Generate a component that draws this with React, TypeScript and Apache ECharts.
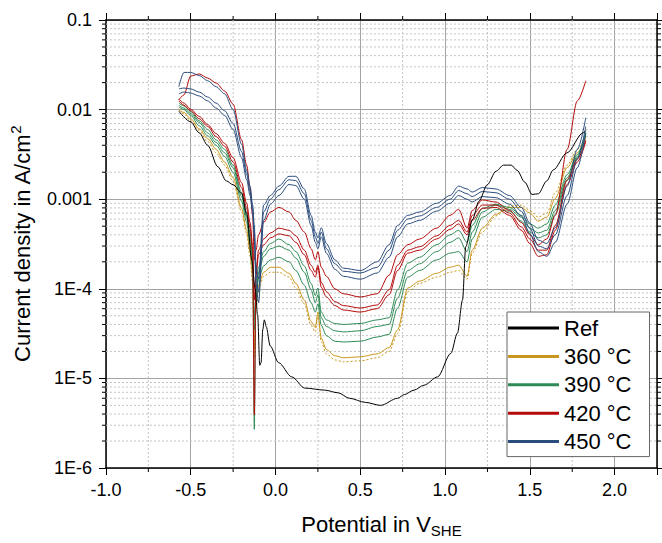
import React, { useEffect, useRef } from "react";
import * as echarts from "echarts";

// Potential (V vs SHE) shared by the temperature curves
const potentials = [-0.57, -0.54, -0.5, -0.45, -0.4, -0.35, -0.3, -0.25, -0.2, -0.17, -0.15, -0.135, -0.125, -0.115, -0.1, -0.07, -0.03, 0.02, 0.08, 0.12, 0.17, 0.21, 0.235, 0.25, 0.27, 0.3, 0.35, 0.4, 0.5, 0.6, 0.67, 0.72, 0.78, 0.85, 0.95, 1.03, 1.08, 1.13, 1.16, 1.22, 1.3, 1.38, 1.45, 1.5, 1.55, 1.6, 1.65, 1.72, 1.78, 1.83];

const refPotentials = [-0.57, -0.5, -0.45, -0.4, -0.34, -0.29, -0.25, -0.2, -0.17, -0.14, -0.12, -0.105, -0.093, -0.085, -0.075, -0.066, -0.055, -0.031, 0.018, 0.096, 0.172, 0.29, 0.37, 0.436, 0.53, 0.62, 0.72, 0.76, 0.817, 0.876, 0.956, 1.034, 1.073, 1.103, 1.122, 1.161, 1.2, 1.249, 1.3, 1.345, 1.39, 1.425, 1.47, 1.513, 1.55, 1.6, 1.638, 1.718, 1.814, 1.83];
const refCurrent = [0.0096, 0.0073, 0.0055, 0.004, 0.0023, 0.0016, 0.00145, 0.00117, 0.00068, 0.00021, 1.0e-4, 5.0e-5, 1.4e-5, 1.5e-5, 3.5e-5, 4.5e-5, 3.8e-5, 2.3e-5, 1.5e-5, 1.04e-5, 7.8e-6, 7.4e-6, 6.9e-6, 6.0e-6, 5.4e-6, 5.0e-6, 6.0e-6, 6.6e-6, 7.4e-6, 8.4e-6, 1.04e-5, 1.9e-5, 3.2e-5, 7.5e-5, 2.95e-4, 5.9e-4, 9.5e-4, 1.45e-3, 2.05e-3, 2.4e-3, 2.4e-3, 2.1e-3, 1.55e-3, 1.13e-3, 1.15e-3, 1.6e-3, 2.12e-3, 3.28e-3, 5.5e-3, 5.8e-3];

const t360a = [0.01, 0.0093, 0.0079, 0.0061, 0.00475, 0.0036, 0.0026, 0.00174, 7.9e-4, 4.5e-4, 2.6e-4, 1.35e-4, 2.1e-5, 6.6e-5, 1.1e-4, 1.53e-4, 1.74e-4, 1.74e-4, 1.49e-4, 1.15e-4, 7.5e-5, 4.3e-5, 3.7e-5, 5.5e-5, 2.8e-5, 2.1e-5, 1.79e-5, 1.7e-5, 1.74e-5, 1.88e-5, 2.2e-5, 3.5e-5, 1.02e-4, 1.22e-4, 1.49e-4, 1.74e-4, 1.83e-4, 1.38e-4, 2.7e-4, 4.75e-4, 6.8e-4, 8.1e-4, 8.1e-4, 7.0e-4, 5.7e-4, 6.3e-4, 1.02e-3, 2.25e-3, 3.3e-3, 4.9e-3];
const t360b = [0.0099, 0.009, 0.0075, 0.0058, 0.0044, 0.0033, 0.0024, 0.00157, 7.2e-4, 4.1e-4, 2.3e-4, 1.15e-4, 1.7e-5, 5.8e-5, 9.75e-5, 1.38e-4, 1.53e-4, 1.53e-4, 1.35e-4, 1.02e-4, 6.8e-5, 3.9e-5, 3.3e-5, 5.1e-5, 2.55e-5, 1.88e-5, 1.61e-5, 1.53e-5, 1.57e-5, 1.7e-5, 2.0e-5, 3.15e-5, 9.3e-5, 1.15e-4, 1.35e-4, 1.53e-4, 1.6e-4, 1.28e-4, 2.5e-4, 4.3e-4, 6.5e-4, 8.4e-4, 8.6e-4, 7.5e-4, 6.3e-4, 7.0e-4, 1.18e-3, 2.4e-3, 3.6e-3, 5.1e-3];

const t390a = [0.0118, 0.011, 0.0095, 0.0075, 0.006, 0.0046, 0.0036, 0.0024, 0.00118, 7.0e-4, 4.2e-4, 2.4e-4, 2.7e-6, 9.75e-5, 1.74e-4, 2.6e-4, 3.2e-4, 3.6e-4, 3.1e-4, 2.6e-4, 1.8e-4, 1.15e-4, 8.4e-5, 1.02e-4, 5.5e-5, 4.5e-5, 4.1e-5, 4.0e-5, 4.1e-5, 4.5e-5, 4.75e-5, 9.75e-5, 1.93e-4, 2.25e-4, 3.1e-4, 4.0e-4, 4.5e-4, 3.3e-4, 5.1e-4, 7.9e-4, 8.8e-4, 8.1e-4, 6.6e-4, 5.3e-4, 4.75e-4, 5.3e-4, 8.6e-4, 1.88e-3, 3.15e-3, 5.7e-3];
const t390b = [0.0112, 0.0104, 0.009, 0.0072, 0.0055, 0.0043, 0.0033, 0.00225, 1.07e-3, 6.3e-4, 3.7e-4, 2.0e-4, 4.5e-5, 9.3e-5, 1.53e-4, 2.3e-4, 2.8e-4, 3.0e-4, 2.7e-4, 2.2e-4, 1.53e-4, 9.75e-5, 7.0e-5, 8.6e-5, 4.75e-5, 3.8e-5, 3.4e-5, 3.3e-5, 3.4e-5, 3.8e-5, 4.0e-5, 7.9e-5, 1.6e-4, 1.9e-4, 2.6e-4, 3.3e-4, 3.7e-4, 2.6e-4, 4.3e-4, 7.2e-4, 8.6e-4, 7.7e-4, 6.3e-4, 4.75e-4, 4.2e-4, 4.5e-4, 7.5e-4, 1.74e-3, 3.0e-3, 5.4e-3];
const t390c = [0.0107, 0.01, 0.0086, 0.0066, 0.0051, 0.004, 0.003, 0.002, 9.5e-4, 5.5e-4, 3.2e-4, 1.74e-4, 3.5e-5, 7.9e-5, 1.28e-4, 1.8e-4, 2.1e-4, 2.25e-4, 2.0e-4, 1.6e-4, 1.1e-4, 7.0e-5, 5.5e-5, 6.8e-5, 3.9e-5, 3.0e-5, 2.6e-5, 2.55e-5, 2.6e-5, 2.9e-5, 3.1e-5, 6.1e-5, 1.35e-4, 1.6e-4, 2.1e-4, 2.5e-4, 2.6e-4, 2.0e-4, 3.6e-4, 6.3e-4, 7.7e-4, 7.35e-4, 5.7e-4, 4.3e-4, 3.7e-4, 4.0e-4, 6.8e-4, 1.61e-3, 2.9e-3, 5.3e-3];

const t420a = [0.0128, 0.0146, 0.0237, 0.025, 0.0225, 0.0198, 0.0161, 0.0115, 0.0046, 0.0024, 1.35e-3, 6.6e-4, 2.1e-4, 2.7e-4, 4.0e-4, 5.5e-4, 7.2e-4, 8.1e-4, 7.2e-4, 5.8e-4, 4.3e-4, 2.8e-4, 2.1e-4, 2.6e-4, 1.74e-4, 1.38e-4, 1.0e-4, 8.8e-5, 8.1e-5, 8.8e-5, 1.42e-4, 2.4e-4, 3.1e-4, 3.6e-4, 4.75e-4, 6.6e-4, 7.7e-4, 4.75e-4, 7.5e-4, 9.8e-4, 9.3e-4, 7.5e-4, 5.5e-4, 4.0e-4, 3.1e-4, 3.6e-4, 6.6e-4, 3.6e-3, 0.0125, 0.021];
const t420b = [0.0131, 0.0118, 0.0101, 0.0084, 0.0068, 0.0054, 0.0042, 0.0029, 0.00153, 9.0e-4, 5.5e-4, 3.1e-4, 3.9e-6, 1.6e-4, 2.7e-4, 3.6e-4, 4.2e-4, 4.75e-4, 4.5e-4, 3.9e-4, 2.7e-4, 1.83e-4, 1.53e-4, 1.83e-4, 1.18e-4, 9.3e-5, 7.2e-5, 6.5e-5, 6.1e-5, 6.6e-5, 9.75e-5, 1.83e-4, 2.7e-4, 2.95e-4, 3.9e-4, 5.1e-4, 5.8e-4, 4.3e-4, 6.6e-4, 8.6e-4, 8.6e-4, 7.0e-4, 4.9e-4, 3.6e-4, 2.7e-4, 2.7e-4, 5.1e-4, 1.65e-3, 2.8e-3, 4.6e-3];
const t420c = [0.0125, 0.0112, 0.0097, 0.0079, 0.0065, 0.005, 0.0039, 0.0026, 0.00135, 7.9e-4, 4.75e-4, 2.7e-4, 7.5e-5, 1.42e-4, 2.4e-4, 3.1e-4, 3.7e-4, 4.1e-4, 3.9e-4, 3.3e-4, 2.4e-4, 1.6e-4, 1.35e-4, 1.74e-4, 1.04e-4, 8.1e-5, 6.5e-5, 5.8e-5, 5.5e-5, 6.0e-5, 8.6e-5, 1.6e-4, 2.5e-4, 2.7e-4, 3.6e-4, 4.6e-4, 5.3e-4, 4.0e-4, 5.8e-4, 7.9e-4, 8.1e-4, 6.6e-4, 4.5e-4, 3.2e-4, 2.3e-4, 2.4e-4, 4.5e-4, 1.46e-3, 2.6e-3, 4.4e-3];

const t450a = [0.018, 0.026, 0.026, 0.024, 0.021, 0.018, 0.015, 0.01, 0.0041, 0.0021, 0.0014, 8.6e-4, 5.1e-4, 1.8e-4, 1.3e-4, 8.6e-4, 1.1e-3, 1.4e-3, 1.8e-3, 1.8e-3, 1.3e-3, 6.6e-4, 4.3e-4, 3.7e-4, 4.8e-4, 3.2e-4, 2.1e-4, 1.7e-4, 1.6e-4, 2.0e-4, 3.1e-4, 5.1e-4, 6.6e-4, 7.2e-4, 9.0e-4, 1.1e-3, 1.4e-3, 1.3e-3, 1.2e-3, 1.35e-3, 1.3e-3, 1.1e-3, 8.1e-4, 5.4e-4, 3.5e-4, 3.2e-4, 4.8e-4, 1.4e-3, 3.6e-3, 8.1e-3];
const t450b = [0.017, 0.0174, 0.017, 0.0157, 0.0138, 0.0118, 0.0097, 0.007, 0.0034, 0.00188, 0.00122, 7.9e-4, 4.3e-4, 1.42e-4, 9.3e-5, 7.2e-4, 1.0e-3, 1.28e-3, 1.65e-3, 1.61e-3, 1.15e-3, 5.8e-4, 3.8e-4, 3.2e-4, 4.3e-4, 2.8e-4, 1.9e-4, 1.57e-4, 1.5e-4, 1.74e-4, 2.7e-4, 4.5e-4, 6.0e-4, 6.5e-4, 8.1e-4, 1.0e-3, 1.25e-3, 1.15e-3, 1.07e-3, 1.22e-3, 1.18e-3, 1.0e-3, 7.35e-4, 4.75e-4, 3.0e-4, 2.8e-4, 4.0e-4, 1.1e-3, 2.8e-3, 6.5e-3];
const t450c = [0.015, 0.0157, 0.0153, 0.0142, 0.0125, 0.0104, 0.0086, 0.006, 0.0029, 0.00165, 0.0011, 7.2e-4, 3.7e-4, 1.1e-4, 7.0e-5, 5.8e-4, 8.8e-4, 1.1e-3, 1.46e-3, 1.42e-3, 1.0e-3, 5.1e-4, 3.3e-4, 2.8e-4, 3.8e-4, 2.5e-4, 1.65e-4, 1.38e-4, 1.28e-4, 1.5e-4, 2.25e-4, 3.8e-4, 5.3e-4, 5.8e-4, 7.35e-4, 9.0e-4, 1.1e-3, 1.0e-3, 9.3e-4, 1.07e-3, 1.04e-3, 8.8e-4, 6.5e-4, 4.1e-4, 2.6e-4, 2.3e-4, 3.3e-4, 8.8e-4, 2.25e-3, 5.5e-3];

const legendNames = ["Ref", "360 °C", "390 °C", "420 °C", "450 °C"];
const xTickLabels = ["-1.0", "-0.5", "0.0", "0.5", "1.0", "1.5", "2.0"];
const yTickLabels = ["1E-6", "1E-5", "1E-4", "0.001", "0.01", "0.1"];
const xMinorTicks = [-0.75, -0.25, 0.25, 0.75, 1.25, 1.75];
const yMinorMultipliers = [2, 3, 4, 5, 6, 7, 8, 9];
const yDecades = [1e-6, 1e-5, 1e-4, 1e-3, 1e-2];

const COLORS = {
  ref: "#000000",
  t360: "#C8961C",
  t390: "#2E8B55",
  t420: "#B40A0A",
  t450: "#2B4D7E",
};

export default function App() {
  const ref = useRef<HTMLDivElement>(null);

  useEffect(() => {
    const chart = echarts.init(ref.current!, null, { renderer: "svg" });
    const font = "'Liberation Sans', Arial, Helvetica, sans-serif";
    const X_MIN = -1.0;
    const X_MAX = 2.25;
    const Y_MIN = 1e-6;
    const Y_MAX = 0.1;

    const pair = (xs: number[], ys: number[]) => xs.map((x, i) => [x, ys[i]]);
    const curve = (name: string, color: string, xs: number[], ys: number[], dotted = false) => ({
      type: "line",
      name,
      data: pair(xs, ys),
      showSymbol: false,
      symbol: "none",
      smooth: 0.3,
      smoothMonotone: "x",
      silent: true,
      z: 3,
      lineStyle: { color, width: 1, type: dotted ? [2, 2] : "solid" },
      itemStyle: { color },
      emphasis: { disabled: true },
    });

    const yMinor: number[][] = [];
    yDecades.forEach((d) => yMinorMultipliers.forEach((m) => yMinor.push([X_MIN, m * d])));
    const xMinor = xMinorTicks.map((x) => [x, 1e-3]);

    const yMinorSeries = {
      type: "custom",
      silent: true,
      z: 1,
      clip: false,
      data: yMinor,
      encode: { x: 0, y: 1 },
      renderItem: (params: any, api: any) => {
        const cs = params.coordSys;
        const y = api.coord([X_MIN, api.value(1)])[1];
        return {
          type: "group",
          children: [
            { type: "line", shape: { x1: cs.x, y1: y, x2: cs.x + cs.width, y2: y }, style: { stroke: "#c4c4c4", lineWidth: 1, lineDash: [2, 2] } },
            { type: "line", shape: { x1: cs.x - 4, y1: y, x2: cs.x, y2: y }, style: { stroke: "#000", lineWidth: 1 } },
            { type: "line", shape: { x1: cs.x + cs.width, y1: y, x2: cs.x + cs.width + 4, y2: y }, style: { stroke: "#000", lineWidth: 1 } },
          ],
        };
      },
    };
    const xMinorSeries = {
      type: "custom",
      silent: true,
      z: 1,
      clip: false,
      data: xMinor,
      encode: { x: 0, y: 1 },
      renderItem: (params: any, api: any) => {
        const cs = params.coordSys;
        const x = api.coord([api.value(0), 1e-3])[0];
        return {
          type: "group",
          children: [
            { type: "line", shape: { x1: x, y1: cs.y, x2: x, y2: cs.y + cs.height }, style: { stroke: "#c4c4c4", lineWidth: 1, lineDash: [2, 2] } },
            { type: "line", shape: { x1: x, y1: cs.y + cs.height, x2: x, y2: cs.y + cs.height + 4 }, style: { stroke: "#000", lineWidth: 1 } },
            { type: "line", shape: { x1: x, y1: cs.y - 4, x2: x, y2: cs.y }, style: { stroke: "#000", lineWidth: 1 } },
          ],
        };
      },
    };

    const axisLine = { show: true, onZero: false, lineStyle: { color: "#000", width: 1.5 } };
    const axisTick = { show: true, inside: false, length: 7, lineStyle: { color: "#000", width: 1 } };

    const option: any = {
      animation: false,
      backgroundColor: "#fff",
      grid: { left: 103, right: 5, top: 20, bottom: 75, containLabel: false },
      legend: {
        data: legendNames,
        orient: "vertical",
        left: 507,
        top: 312,
        icon: "rect",
        itemWidth: 51,
        itemHeight: 3,
        itemGap: 6.4,
        padding: [5, 18, 4, 1],
        backgroundColor: "#fff",
        borderColor: "#666",
        borderWidth: 1,
        borderRadius: 0,
        selectedMode: false,
        textStyle: { fontSize: 22, fontFamily: font, color: "#000", lineHeight: 22 },
        z: 10,
      },
      xAxis: [
        {
          type: "value",
          position: "bottom",
          min: X_MIN,
          max: X_MAX,
          interval: 0.5,
          axisLine,
          axisTick,
          axisLabel: {
            fontSize: 18,
            fontFamily: font,
            color: "#000",
            margin: 13,
            formatter: (v: number) => {
              const k = Math.round((v - X_MIN) / 0.5);
              return Math.abs(X_MIN + k * 0.5 - v) < 1e-6 && xTickLabels[k] ? xTickLabels[k] : "";
            },
          },
          splitLine: { show: true, lineStyle: { color: "#a3a3a3", width: 1 } },
          name: "Potential in V{sub|SHE}",
          nameLocation: "middle",
          nameGap: 42,
          nameTextStyle: {
            fontSize: 22,
            fontFamily: font,
            color: "#000",
            lineHeight: 28,
            rich: { sub: { fontSize: 15, fontFamily: font, color: "#000", lineHeight: 15, verticalAlign: "bottom" } },
          },
        },
        {
          type: "value",
          position: "top",
          min: X_MIN,
          max: X_MAX,
          interval: 0.5,
          axisLine,
          axisTick,
          axisLabel: { show: false },
          splitLine: { show: false },
        },
      ],
      yAxis: [
        {
          type: "log",
          logBase: 10,
          position: "left",
          min: Y_MIN,
          max: Y_MAX,
          axisLine,
          axisTick,
          axisLabel: {
            fontSize: 18,
            fontFamily: font,
            color: "#000",
            margin: 14,
            formatter: (v: number) => {
              const e = Math.round(Math.log10(v));
              return yTickLabels[e + 6] ?? "";
            },
          },
          splitLine: { show: true, lineStyle: { color: "#a3a3a3", width: 1 } },
          name: "Current density in A/cm{sup|2}",
          nameLocation: "middle",
          nameGap: 68,
          nameTextStyle: {
            fontSize: 22,
            fontFamily: font,
            color: "#000",
            lineHeight: 28,
            rich: { sup: { fontSize: 15, fontFamily: font, color: "#000", lineHeight: 15, verticalAlign: "top" } },
          },
        },
        {
          type: "log",
          logBase: 10,
          position: "right",
          min: Y_MIN,
          max: Y_MAX,
          axisLine,
          axisTick,
          axisLabel: { show: false },
          splitLine: { show: false },
        },
      ],
      series: [
        yMinorSeries,
        xMinorSeries,
        curve("360 °C", COLORS.t360, potentials, t360a),
        curve("360 °C", COLORS.t360, potentials, t360b, true),
        curve("390 °C", COLORS.t390, potentials, t390a),
        curve("390 °C", COLORS.t390, potentials, t390b),
        curve("390 °C", COLORS.t390, potentials, t390c),
        curve("420 °C", COLORS.t420, potentials, t420a),
        curve("420 °C", COLORS.t420, potentials, t420b),
        curve("420 °C", COLORS.t420, potentials, t420c),
        curve("450 °C", COLORS.t450, potentials, t450a),
        curve("450 °C", COLORS.t450, potentials, t450b),
        curve("450 °C", COLORS.t450, potentials, t450c),
        curve("Ref", COLORS.ref, refPotentials, refCurrent),
      ],
    };

    chart.setOption(option);
    return () => chart.dispose();
  }, []);

  return (
    <div
      ref={ref}
      style={{ position: "fixed", left: 0, top: 0, width: 662, height: 543, background: "#fff" }}
    />
  );
}
